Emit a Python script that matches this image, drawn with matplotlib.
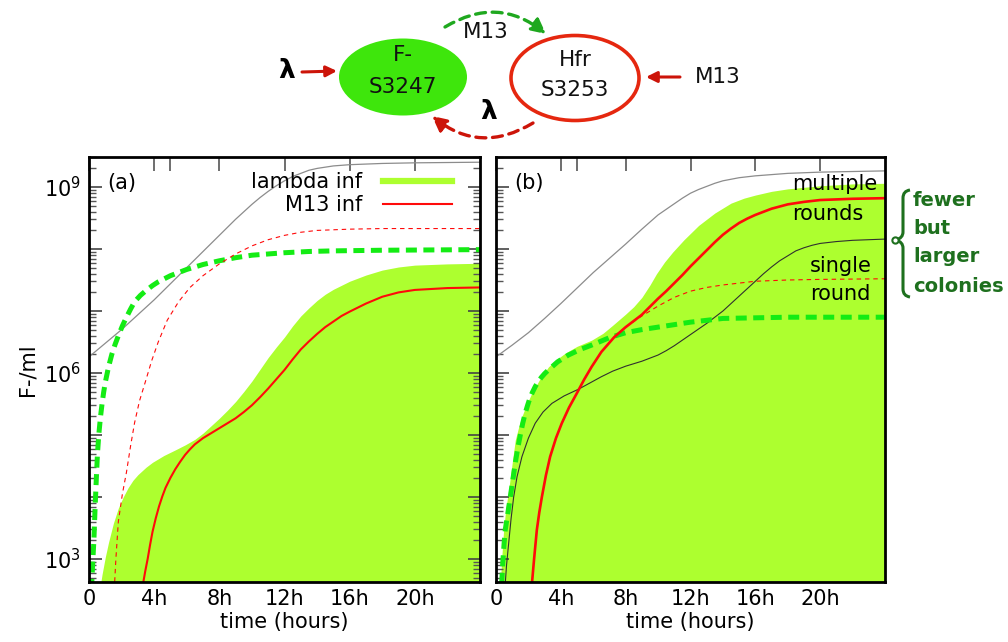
import numpy as np
import matplotlib
matplotlib.use('Agg')
import matplotlib.pyplot as plt
from matplotlib.patches import Ellipse, FancyArrowPatch, PathPatch
from matplotlib.path import Path
from matplotlib.lines import Line2D
from matplotlib.ticker import FixedLocator, LogLocator, NullFormatter, FuncFormatter

########################################
# data: time in hours, densities given as log10(F-/ml)

hour_ticks = [0, 4, 8, 12, 16, 20]
hour_labels = ['0', '4h', '8h', '12h', '16h', '20h']

# panel (a)
a_total_t = [0, 1, 2, 3, 4, 5, 6, 7, 8, 9, 10, 10.5, 11, 11.5, 12, 12.5, 13, 13.5, 14, 15, 16, 18, 20, 24]
a_total_e = [6.26, 6.48, 6.70, 6.94, 7.18, 7.44, 7.70, 7.96, 8.22, 8.48, 8.72, 8.83, 8.93, 9.02,
             9.10, 9.17, 9.22, 9.27, 9.30, 9.34, 9.36, 9.38, 9.39, 9.40]

a_lambda_t = [0.65, 0.8, 1.0, 1.2, 1.5, 1.8, 2.1, 2.4, 2.7, 3.0, 3.5, 3.9, 4.6, 5.3, 5.9, 6.5, 7.0,
              7.5, 8, 8.5, 9, 9.5, 10, 10.5, 11, 11.5, 12, 12.5, 13, 13.5, 14, 14.5, 15, 16, 17,
              18, 19, 20, 22, 24]
a_lambda_e = [2.5, 2.75, 3.03, 3.27, 3.58, 3.82, 4.0, 4.15, 4.27, 4.36, 4.48, 4.56, 4.67, 4.76,
              4.84, 4.93, 5.03, 5.15, 5.27, 5.40, 5.54, 5.70, 5.87, 6.06, 6.25, 6.42, 6.58, 6.76,
              6.92, 7.05, 7.17, 7.27, 7.35, 7.48, 7.58, 7.66, 7.71, 7.74, 7.76, 7.77]

a_green_t = [0.15, 0.22, 0.3, 0.37, 0.45, 0.52, 0.6, 0.7, 0.8, 0.9, 1.0, 1.2, 1.4, 1.6, 1.8, 2.05,
             2.3, 2.55, 2.8, 3.15, 3.5, 3.9, 4.25, 5, 6, 7, 8, 9, 10, 11, 12, 13.5, 15, 18, 24]
a_green_e = [2.5, 2.9, 3.3, 3.8, 4.3, 4.7, 5.0, 5.28, 5.5, 5.69, 5.85, 6.1, 6.3, 6.46, 6.6, 6.76,
             6.9, 7.03, 7.15, 7.25, 7.33, 7.41, 7.47, 7.57, 7.67, 7.75, 7.81, 7.86, 7.90, 7.92,
             7.94, 7.96, 7.97, 7.98, 7.99]

a_reddot_t = [1.55, 1.65, 1.8, 2.05, 2.3, 2.55, 2.8, 3.1, 3.45, 3.85, 4.25, 4.8, 5.5, 6.2, 7, 8, 9,
              10, 11, 12, 13, 14, 16, 18, 24]
a_reddot_e = [2.5, 3.0, 3.6, 4.05, 4.4, 4.82, 5.2, 5.55, 5.85, 6.2, 6.5, 6.85, 7.15, 7.38, 7.57,
              7.76, 7.92, 8.05, 8.15, 8.22, 8.27, 8.30, 8.32, 8.33, 8.33]

a_m13_t = [3.25, 3.45, 3.6, 3.75, 3.9, 4.1, 4.3, 4.5, 4.7, 5.0, 5.3, 5.6, 5.9, 6.2, 6.5, 7, 7.5, 8,
           8.5, 9, 9.5, 10, 10.5, 11, 11.5, 12, 12.5, 13, 13.5, 14, 14.5, 15, 15.5, 16, 17, 18,
           19, 20, 22, 24]
a_m13_e = [2.5, 2.8, 3.0, 3.23, 3.44, 3.66, 3.85, 4.01, 4.15, 4.31, 4.45, 4.57, 4.68, 4.77, 4.85,
           4.95, 5.03, 5.11, 5.19, 5.27, 5.37, 5.48, 5.61, 5.75, 5.90, 6.05, 6.22, 6.38, 6.51,
           6.63, 6.74, 6.83, 6.92, 6.99, 7.12, 7.23, 7.30, 7.34, 7.37, 7.38]

# panel (b)
b_total_t = [0, 1, 2, 3, 4, 5, 6, 7, 8, 9, 10, 10.5, 11, 11.5, 12, 12.5, 13, 13.5, 14, 15, 16, 17, 18, 20, 24]
b_total_e = [6.26, 6.45, 6.65, 6.88, 7.12, 7.37, 7.62, 7.85, 8.08, 8.32, 8.55, 8.64, 8.73, 8.82,
             8.90, 8.96, 9.01, 9.06, 9.10, 9.15, 9.18, 9.20, 9.22, 9.24, 9.26]

b_lambda_t = [0.25, 0.35, 0.47, 0.6, 0.78, 1.0, 1.19, 1.4, 1.6, 1.9, 2.2, 2.7, 3.24, 3.75, 4.27,
              5.0, 5.9, 6.6, 7.2, 7.6, 8.0, 8.5, 9.0, 9.5, 9.9, 10.4, 10.9, 11.6, 12.5, 13.5,
              14.5, 15.3, 16, 17, 18, 20, 22, 24]
b_lambda_e = [2.5, 3.0, 3.47, 3.8, 4.11, 4.55, 4.92, 5.13, 5.3, 5.5, 5.67, 5.9, 6.1, 6.22, 6.32,
              6.43, 6.53, 6.64, 6.77, 6.86, 6.95, 7.07, 7.22, 7.42, 7.60, 7.79, 7.95, 8.15, 8.38,
              8.58, 8.74, 8.82, 8.87, 8.93, 8.97, 9.02, 9.05, 9.06]

b_green_t = [0.35, 0.42, 0.5, 0.57, 0.72, 0.88, 1.04, 1.19, 1.35, 1.5, 1.65, 1.8, 1.95, 2.1, 2.25,
             2.42, 2.6, 2.8, 3.0, 3.24, 3.8, 4.47, 5.2, 5.9, 7, 8, 9, 10, 11, 12, 13, 14, 16, 18, 24]
b_green_e = [2.6, 2.95, 3.25, 3.47, 3.72, 4.0, 4.28, 4.55, 4.8, 5.0, 5.19, 5.35, 5.48, 5.6, 5.69,
             5.78, 5.86, 5.93, 5.99, 6.05, 6.18, 6.29, 6.38, 6.45, 6.57, 6.65, 6.70, 6.74, 6.78,
             6.82, 6.85, 6.88, 6.89, 6.90, 6.90]

b_single_t = [0.57, 0.65, 0.78, 0.93, 1.09, 1.3, 1.6, 2.0, 2.42, 2.9, 3.45, 4.2, 5.1, 5.8, 6.5, 7.2,
              8, 9, 10, 10.5, 11, 11.5, 12, 12.5, 13, 13.5, 14, 14.5, 15, 15.5, 16, 16.5, 17, 17.5,
              18, 18.5, 19, 19.5, 20, 21, 22, 24]
b_single_e = [2.6, 2.9, 3.25, 3.65, 4.0, 4.33, 4.65, 4.95, 5.19, 5.37, 5.51, 5.63, 5.74, 5.84,
              5.94, 6.03, 6.11, 6.19, 6.29, 6.36, 6.44, 6.53, 6.62, 6.71, 6.80, 6.90, 7.00, 7.12,
              7.24, 7.36, 7.48, 7.60, 7.71, 7.81, 7.89, 7.97, 8.02, 8.06, 8.09, 8.12, 8.14, 8.16]

b_reddot_t = [2.2, 2.35, 2.52, 2.67, 2.83, 3.08, 3.34, 3.7, 4.06, 4.5, 4.98, 5.45, 5.9, 6.5, 7.3,
              8, 8.5, 9, 9.5, 10, 10.5, 11, 11.5, 12, 13, 14, 15, 16, 18, 20, 24]
b_reddot_e = [2.55, 3.0, 3.47, 3.75, 4.0, 4.35, 4.65, 4.95, 5.19, 5.44, 5.67, 5.9, 6.1, 6.34,
              6.58, 6.74, 6.83, 6.92, 7.00, 7.08, 7.15, 7.22, 7.27, 7.32, 7.38, 7.42, 7.45, 7.48,
              7.50, 7.51, 7.52]

b_m13_t = [2.2, 2.35, 2.52, 2.67, 2.83, 3.08, 3.34, 3.7, 4.06, 4.5, 4.98, 5.45, 5.9, 6.5, 7.3, 8,
           8.5, 9, 9.5, 10, 10.5, 11, 11.5, 12, 12.5, 13, 13.5, 14, 14.5, 15, 15.5, 16, 17, 18,
           19, 20, 22, 24]
b_m13_e = [2.55, 3.0, 3.47, 3.75, 4.0, 4.35, 4.65, 4.95, 5.19, 5.44, 5.67, 5.9, 6.1, 6.34, 6.58,
           6.74, 6.84, 6.94, 7.07, 7.20, 7.32, 7.45, 7.58, 7.72, 7.85, 7.98, 8.11, 8.23, 8.33,
           8.42, 8.49, 8.55, 8.65, 8.72, 8.76, 8.79, 8.81, 8.82]

########################################

LIME = '#adff2f'
GREEN = '#14ec14'
RED = '#ff0a0a'
FS = 15

plt.rcParams['font.family'] = ['DejaVu Sans']

fig = plt.figure(figsize=(10.08, 6.42), dpi=100)
ax_a = fig.add_axes([89/1008, 1 - 582/642, 391/1008, 425/642])
ax_b = fig.add_axes([496/1008, 1 - 582/642, 389/1008, 425/642])


def dec(e):
    return 10.0 ** np.asarray(e)


def style_axes(ax, ylabels=True, right=False):
    ax.set_yscale('log')
    ax.set_xlim(0, 24)
    ax.set_ylim(10 ** 2.629, 10 ** 9.484)
    ax.yaxis.set_major_locator(FixedLocator([10.0 ** k for k in range(3, 10)]))
    if ylabels:
        ax.yaxis.set_major_formatter(FuncFormatter(
            lambda v, p: '$10^{%d}$' % round(np.log10(v)) if round(np.log10(v)) % 3 == 0 else ''))
    else:
        ax.yaxis.set_major_formatter(NullFormatter())
    ax.yaxis.set_minor_locator(LogLocator(base=10, subs=range(2, 10), numticks=20))
    ax.yaxis.set_minor_formatter(NullFormatter())
    ax.tick_params(axis='y', which='major', direction='in', length=9, width=1.2,
                   color='#444444', left=True, right=right, labelsize=FS, pad=6)
    ax.tick_params(axis='y', which='minor', direction='in', length=5, width=1.0,
                   color='#555555', left=True, right=right)
    ax.set_xticks(hour_ticks)
    ax.set_xticklabels(hour_labels)
    ax.set_xticks([5], minor=True)
    ax.tick_params(axis='x', which='both', direction='in', bottom=False, top=True,
                   length=10, width=1.2, color='#555555', labelbottom=True,
                   labelsize=FS, pad=5)
    for s in ax.spines.values():
        s.set_linewidth(2)
        s.set_zorder(10)
    ax.set_xlabel('time (hours)', fontsize=FS, labelpad=2)


# ---------- panel (a)
ax = ax_a
ax.fill_between(a_lambda_t, 1.0, dec(a_lambda_e), color=LIME, lw=0, zorder=1)
ax.plot(a_total_t, dec(a_total_e), color='#8c8c8c', lw=0.9, zorder=2)
ax.plot(a_green_t, dec(a_green_e), color=GREEN, lw=3.6, dashes=(2.2, 1.3), zorder=3)
ax.plot(a_reddot_t, dec(a_reddot_e), color=RED, lw=0.8, dashes=(4, 3.5), zorder=3)
ax.plot(a_m13_t, dec(a_m13_e), color=RED, lw=1.5, zorder=4)
style_axes(ax, ylabels=True, right=True)
ax.set_ylabel('F-/ml', fontsize=FS, labelpad=4)
ax.text(0.046, 0.939, '(a)', transform=ax.transAxes, fontsize=FS, va='center')
handles = [Line2D([], [], color=LIME, lw=4.5), Line2D([], [], color=RED, lw=1.5)]
ax.legend(handles, ['lambda inf', 'M13 inf'], loc='upper right',
          bbox_to_anchor=(0.928, 0.965), frameon=False, markerfirst=False,
          fontsize=FS, handlelength=3.3, handletextpad=1.0, labelspacing=0.15,
          borderpad=0, borderaxespad=0)

# ---------- panel (b)
ax = ax_b
ax.fill_between(b_lambda_t, 1.0, dec(b_lambda_e), color=LIME, lw=0, zorder=1)
ax.plot(b_total_t, dec(b_total_e), color='#8c8c8c', lw=0.9, zorder=2)
ax.plot(b_single_t, dec(b_single_e), color='#303030', lw=0.8, zorder=2)
ax.plot(b_green_t, dec(b_green_e), color=GREEN, lw=3.6, dashes=(2.2, 1.3), zorder=3)
ax.plot(b_reddot_t, dec(b_reddot_e), color=RED, lw=0.8, dashes=(4, 3.5), zorder=3)
ax.plot(b_m13_t, dec(b_m13_e), color=RED, lw=1.9, zorder=4)
style_axes(ax, ylabels=False, right=False)
ax.text(0.046, 0.939, '(b)', transform=ax.transAxes, fontsize=FS, va='center')
ax.text(18.25, 10 ** 9.05, 'multiple', fontsize=FS, va='center', ha='left', zorder=6)
ax.text(18.25, 10 ** 8.57, 'rounds', fontsize=FS, va='center', ha='left', zorder=6)
ax.text(19.35, 10 ** 7.72, 'single', fontsize=FS, va='center', ha='left', zorder=6)
ax.text(19.35, 10 ** 7.27, 'round', fontsize=FS, va='center', ha='left', zorder=6)

########################################
# overlay in pixel units: strain diagram and brace annotation
ov = fig.add_axes([0, 0, 1, 1], zorder=20)
ov.set_xlim(0, 1008)
ov.set_ylim(642, 0)
ov.axis('off')
ov.patch.set_alpha(0)

TXT = '#111111'
ov.add_patch(Ellipse((403, 77), 128, 77, facecolor='#3ee60c', edgecolor='none'))
ov.add_patch(Ellipse((575, 78), 128, 85, facecolor='white', edgecolor='#e5270f', lw=2.6))
ov.text(403, 55, 'F-', fontsize=15.5, ha='center', va='center', color=TXT)
ov.text(403, 87, 'S3247', fontsize=15.5, ha='center', va='center', color=TXT)
ov.text(575, 60, 'Hfr', fontsize=15.5, ha='center', va='center', color=TXT)
ov.text(575, 90, 'S3253', fontsize=15.5, ha='center', va='center', color=TXT)

DARKRED = '#cc1409'
ov.text(287, 71, 'λ', fontsize=19, fontweight='bold', ha='center', va='center')
ov.add_patch(FancyArrowPatch((302, 72), (337, 71), arrowstyle='-|>', mutation_scale=16,
                             color=DARKRED, lw=2.2, shrinkA=0, shrinkB=0))
ov.text(718, 77, 'M13', fontsize=15.5, ha='center', va='center', color=TXT)
ov.add_patch(FancyArrowPatch((680, 77), (646, 77), arrowstyle='-|>', mutation_scale=16,
                             color=DARKRED, lw=2.2, shrinkA=0, shrinkB=0))

ov.add_patch(FancyArrowPatch((445, 27), (546, 34), connectionstyle='arc3,rad=-0.35',
                             arrowstyle='-|>', mutation_scale=22, color='#1fa81f',
                             lw=2.4, linestyle=(0, (3, 2)), shrinkA=0, shrinkB=0))
ov.text(486, 32, 'M13', fontsize=15.5, ha='center', va='center', color=TXT)

ov.add_patch(FancyArrowPatch((533, 123), (432, 116), connectionstyle='arc3,rad=-0.35',
                             arrowstyle='-|>', mutation_scale=22, color=DARKRED,
                             lw=2.4, linestyle=(0, (3, 2)), shrinkA=0, shrinkB=0))
ov.text(489, 112, 'λ', fontsize=19, fontweight='bold', ha='center', va='center')

# curly brace
DG = '#1e701e'
brace = Path([(910, 190), (903, 191), (903, 198), (903, 205),
              (903, 232), (903, 238), (896, 240),
              (903, 242), (903, 248),
              (903, 289), (903, 296), (910, 297)],
             [Path.MOVETO, Path.CURVE3, Path.CURVE3, Path.LINETO,
              Path.LINETO, Path.CURVE3, Path.CURVE3,
              Path.CURVE3, Path.CURVE3,
              Path.LINETO, Path.CURVE3, Path.CURVE3])
ov.add_patch(PathPatch(brace, facecolor='none', edgecolor=DG, lw=2.2))
ov.plot([895], [240], marker='o', ms=4.5, mfc='white', mec=DG, mew=1.5)
for txt, yy in zip(['fewer', 'but', 'larger', 'colonies'], [201, 229, 257, 286]):
    ov.text(913, yy, txt, fontsize=14, fontweight='bold', color=DG, ha='left', va='center')

fig.savefig('out.png', dpi=100)
